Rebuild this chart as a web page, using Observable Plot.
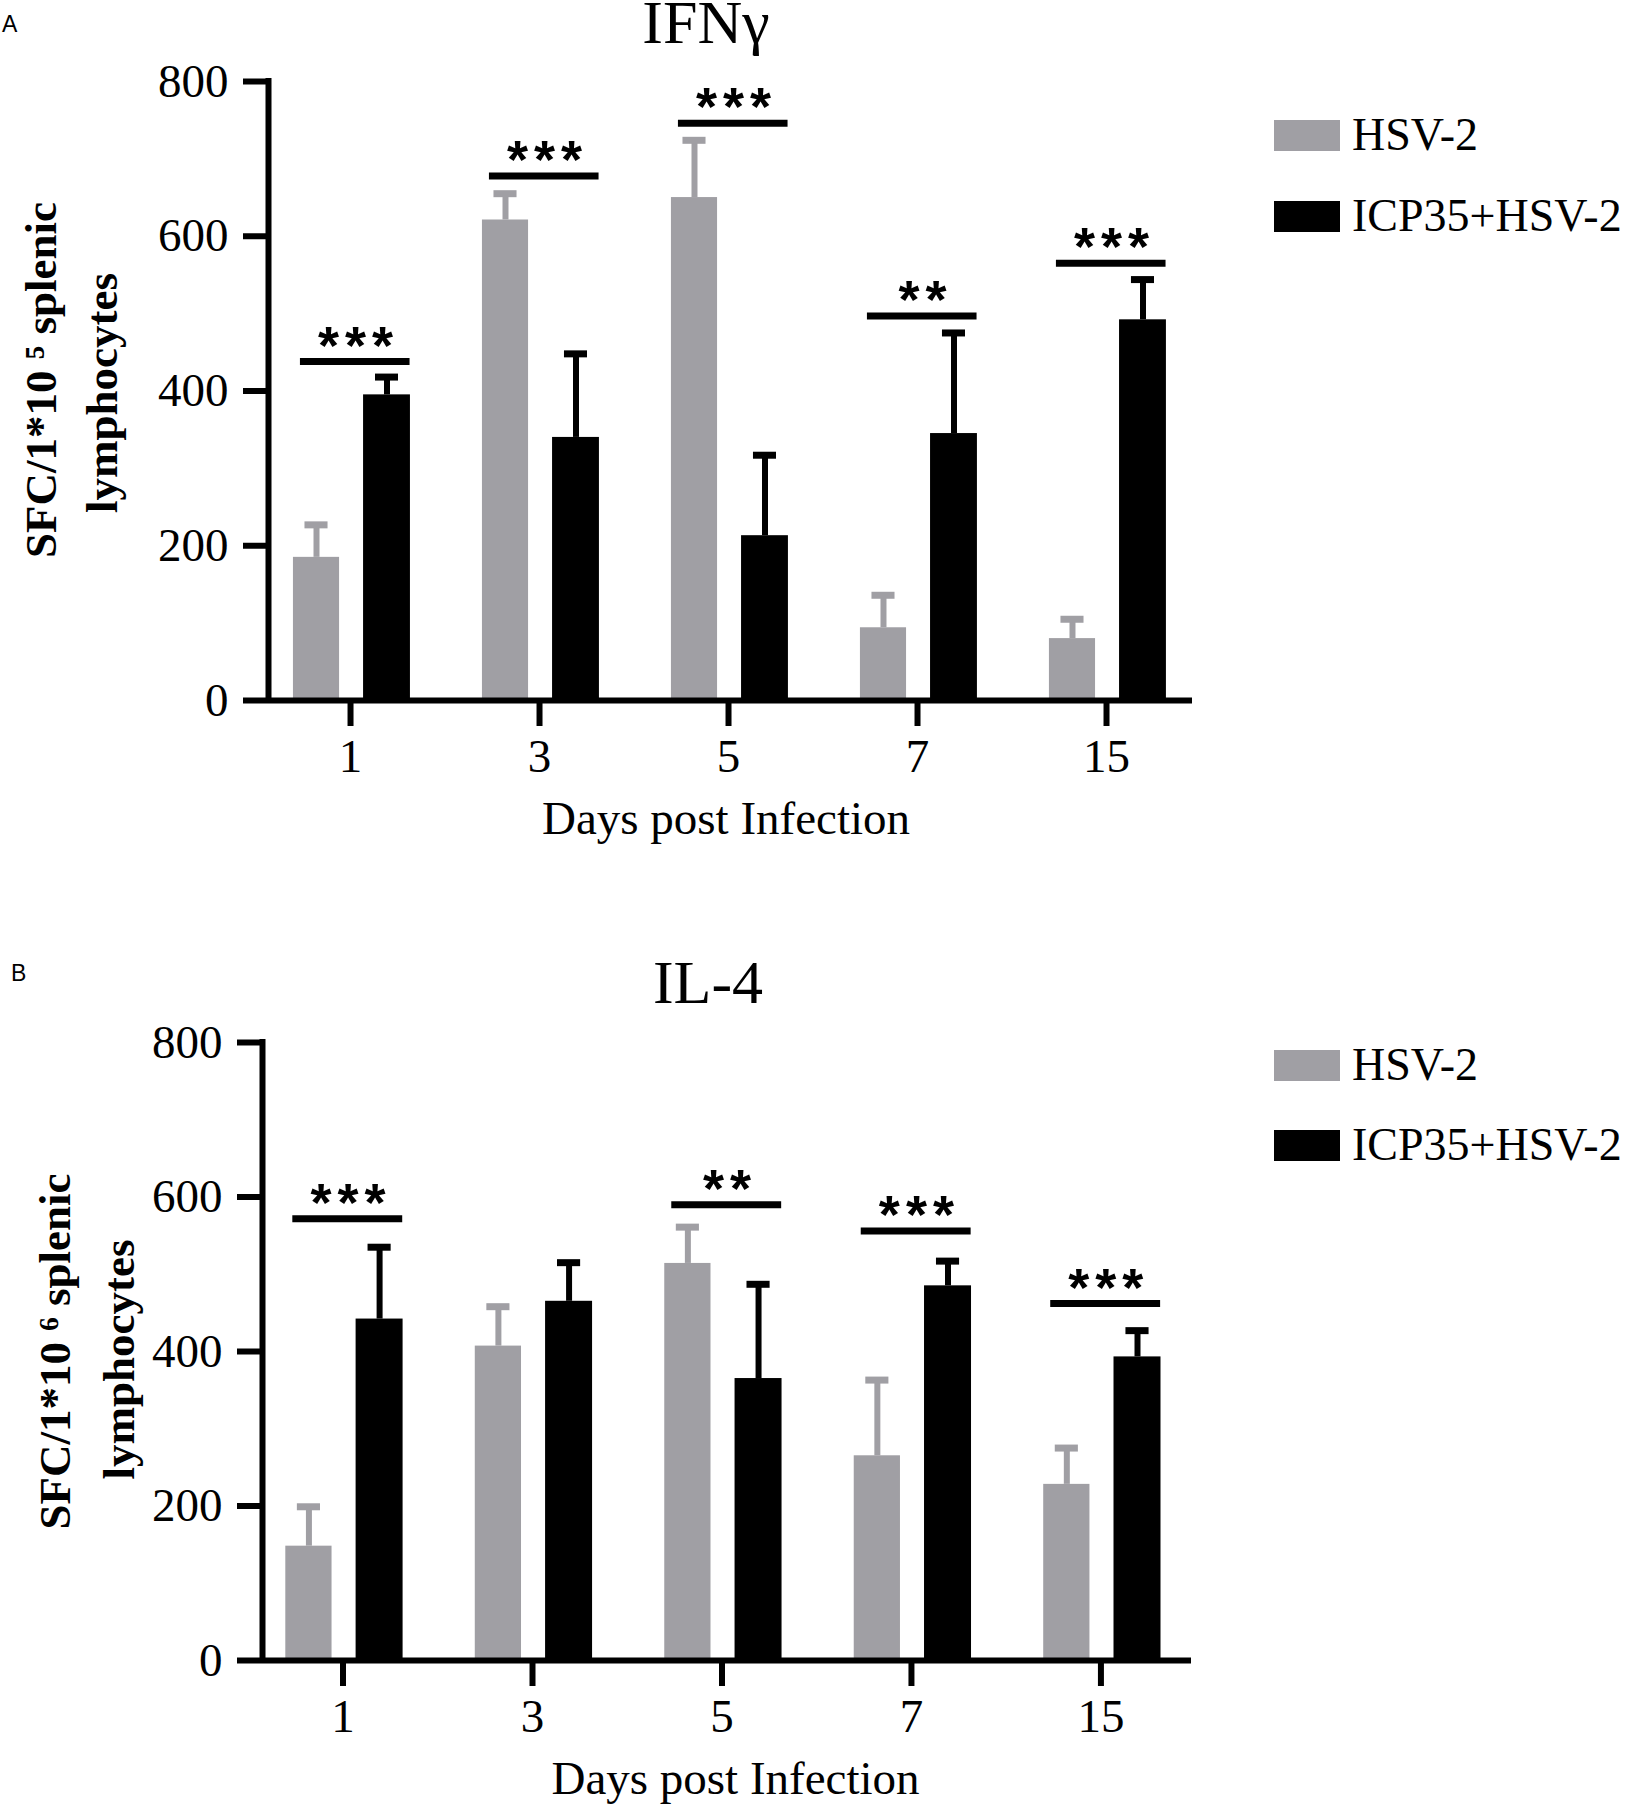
<!DOCTYPE html>
<html><head><meta charset="utf-8">
<script src="https://cdn.jsdelivr.net/npm/d3@7"></script>
<script src="https://cdn.jsdelivr.net/npm/@observablehq/plot@0.6"></script>
<style>
html,body{margin:0;padding:0;background:#fff;}
#root{position:relative;width:1628px;height:1805px;overflow:hidden;font-family:"Liberation Serif","Times New Roman",serif;color:#000;}
.abs{position:absolute;white-space:nowrap;}
</style></head><body><div id="root"></div>
<script>
// ---------- data ----------
const days = ["1","3","5","7","15"];
const series = ["HSV-2","ICP35+HSV-2"];
const seriesColors = ["#a09fa4","#000000"];
const yTicks = [0,200,400,600,800];

// Panel A : IFNγ
const ifnHsvMean = [185,621,650,94,80];
const ifnHsvErr  = [227,655,724,136,105];
const ifnIcpMean = [395,340,213,345,492];
const ifnIcpErr  = [418,448,317,475,544];
const ifnSigLabels = ["***","***","***","**","***"];
const ifnSigLevel  = [438,678,746,497,565];

// Panel B : IL-4
const il4HsvMean = [148,407,514,265,228];
const il4HsvErr  = [199,458,561,363,275];
const il4IcpMean = [442,465,365,485,393];
const il4IcpErr  = [535,515,487,517,427];
const il4SigLabels = ["***","","**","***","***"];
const il4SigLevel  = [572,null,590,556,462];

// ---------- layout ----------
const barOffsets = {"HSV-2":[-0.302,-0.058], "ICP35+HSV-2":[0.069,0.317]};
const capHalf = 0.061;
const sigSpan = [-0.265, 0.315];
const starShift = 0.026;
const root = document.getElementById("root");

function addText(txt, o) {
  const sans = o.family && o.family.includes("Sans");
  const a = sans ? 0.905 : 0.891, dsc = sans ? 0.212 : 0.216;
  const L = o.lh || o.size;
  const off = (L - (a + dsc) * o.size) / 2 + a * o.size;
  const el = document.createElement("div");
  el.className = "abs";
  el.textContent = txt;
  el.style.fontSize = o.size + "px";
  el.style.lineHeight = L + "px";
  if (o.family) el.style.fontFamily = o.family;
  if (o.weight) el.style.fontWeight = o.weight;
  el.style.top = (o.baseline - off) + "px";
  if (o.centerX != null) { el.style.left = o.centerX + "px"; el.style.transform = "translateX(-50%)"; }
  else el.style.left = o.left + "px";
  root.appendChild(el);
}

function addLegend(tops) {
  series.forEach((s, j) => {
    const sq = document.createElement("div");
    sq.className = "abs";
    Object.assign(sq.style, {left:"1274px", top: tops[j]+"px", width:"66px", height:"31px", background: seriesColors[j]});
    root.appendChild(sq);
    addText(s, {left:1352, baseline: tops[j]+31, size:46});
  });
}

function panel(p) {
  const rows = days.flatMap((d,i)=>[
    {i, day:d, series:series[0], mean:p.hsvMean[i], err:p.hsvErr[i]},
    {i, day:d, series:series[1], mean:p.icpMean[i], err:p.icpErr[i]}
  ]);
  const sig = days.map((d,i)=>({i, label:p.sigLabels[i], y:p.sigLevel[i]})).filter(d=>d.label);
  const bx1 = d => d.i + barOffsets[d.series][0];
  const bx2 = d => d.i + barOffsets[d.series][1];
  const bc = d => d.i + (barOffsets[d.series][0] + barOffsets[d.series][1]) / 2;

  const svg = Plot.plot({
    width: 1628, height: p.height,
    marginTop: p.mt, marginBottom: p.mb, marginLeft: p.ml, marginRight: p.mr,
    x: {domain: p.xDomain, label: null},
    y: {domain: [0,800], label: null},
    color: {domain: series, range: seriesColors},
    style: {fontFamily: "Liberation Serif", fontSize: "47px", color: "#000", background: "transparent", overflow: "visible"},
    marks: [
      Plot.rectY(rows, {x1: bx1, x2: bx2, y1: 0, y2: "mean", fill: "series"}),
      Plot.ruleX(rows, {x: bc, y1: "mean", y2: "err", stroke: "series", strokeWidth: 6}),
      Plot.ruleY(rows, {y: "err", x1: d => bc(d) - capHalf, x2: d => bc(d) + capHalf, stroke: "series", strokeWidth: 7}),
      Plot.ruleY(sig, {y: "y", x1: d => d.i + sigSpan[0], x2: d => d.i + sigSpan[1], stroke: "#000", strokeWidth: 7}),
      Plot.text(sig, {x: d => d.i + starShift, y: "y", text: "label", lineAnchor: "bottom",
        fontFamily: "Liberation Sans", fontWeight: "bold", fontSize: 54, dx: 3, dy: 2, fill: "#000"}),
      Plot.ruleY([0], {strokeWidth: 6, stroke: "#000"}),
      Plot.ruleX([p.xDomain[0]], {y1: 0, y2: 800, strokeWidth: 6, stroke: "#000", strokeLinecap: "square"}),
      Plot.axisY({ticks: yTicks, tickSize: 25, tickPadding: 15, strokeWidth: 6, fontSize: 47, label: null, tickFormat: d => String(d)}),
      Plot.axisX({ticks: days.map((d,i)=>i), tickFormat: i => days[i], tickSize: 26, tickPadding: 12, strokeWidth: 6, fontSize: 47, label: null}),
      Plot.text([p.xTitle], {frameAnchor: "bottom", dy: 133, dx: p.xTitleDx, lineAnchor: "bottom", fontSize: 47}),
      Plot.text([p.yLabel[0]], {frameAnchor: "left", textAnchor: "middle", rotate: -90, lineAnchor: "bottom", dx: p.yDx[0], dy: p.yDy[0], fontWeight: "bold", fontSize: 45}),
      Plot.text([p.yLabel[1]], {frameAnchor: "left", textAnchor: "middle", rotate: -90, lineAnchor: "bottom", dx: p.yDx[1], dy: p.yDy[1], fontWeight: "bold", fontSize: 45})
    ]
  });
  svg.style.position = "absolute";
  svg.style.left = "0px";
  svg.style.top = p.top + "px";
  svg.querySelectorAll("text").forEach(t => {
    if (/^\*+$/.test(t.textContent)) t.style.letterSpacing = "6px";
  });
  root.appendChild(svg);
}

panel({
  top: 0, height: 860, mt: 81, mb: 160, ml: 268, mr: 436, xDomain: [-0.434, 4.455],
  hsvMean: ifnHsvMean, hsvErr: ifnHsvErr, icpMean: ifnIcpMean, icpErr: ifnIcpErr,
  sigLabels: ifnSigLabels, sigLevel: ifnSigLevel,
  xTitle: "Days post Infection", xTitleDx: -4.5,
  yLabel: ["SFC/1*10 \u2075 splenic", "lymphocytes"], yDx: [-213, -152], yDy: [-11, 2]
});
panel({
  top: 940, height: 865, mt: 102, mb: 145, ml: 262, mr: 437, xDomain: [-0.425, 4.478],
  hsvMean: il4HsvMean, hsvErr: il4HsvErr, icpMean: il4IcpMean, icpErr: il4IcpErr,
  sigLabels: il4SigLabels, sigLevel: il4SigLevel,
  xTitle: "Days post Infection", xTitleDx: 8.5,
  yLabel: ["SFC/1*10 \u2076 splenic", "lymphocytes"], yDx: [-193, -129], yDy: [0, 8]
});

addText("IFN\u03b3", {centerX: 706, baseline: 43, size: 62, lh: 42});
addText("IL-4", {centerX: 708, baseline: 1003, size: 62, lh: 42});
addText("A", {left: 2, baseline: 32, size: 23, family: "Liberation Sans"});
addText("B", {left: 11, baseline: 981, size: 23, family: "Liberation Sans"});
addLegend([120, 201]);
addLegend([1050, 1130]);
</script></body></html>
